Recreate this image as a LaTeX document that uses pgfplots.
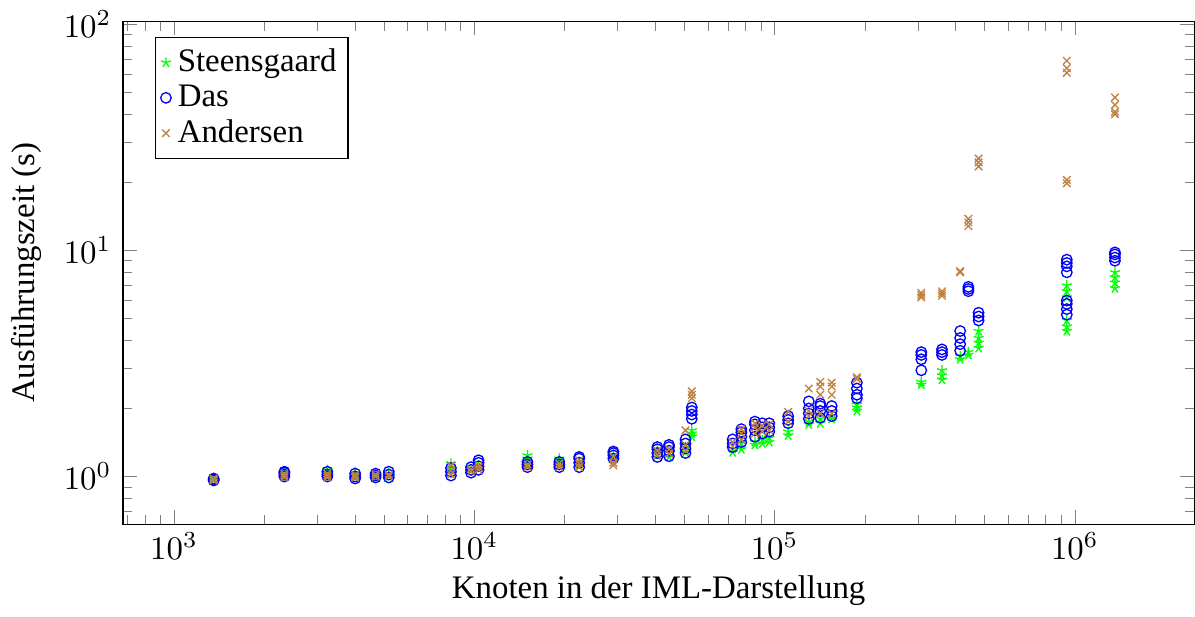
\documentclass[border=0pt]{standalone}
\usepackage{fontspec}
\setmainfont{Liberation Serif}
\usepackage{pgfplots}
\pgfplotsset{compat=1.18}

\begin{document}
\begin{tikzpicture}
\begin{loglogaxis}[
  scale only axis,
  width=326pt, height=153pt,
  xmin=676, xmax=2.5e6,
  ymin=0.615, ymax=103,
  xlabel={Knoten in der IML-Darstellung},
  ylabel={Ausführungszeit (s)},
  xlabel style={yshift=2pt},
  xticklabel style={yshift=1pt},
  legend pos=north west,
  legend cell align=left,
  legend style={row sep=-1.5pt, inner sep=1.5pt},
  mark size=1.6pt,
]
% Steensgaard
\addplot[only marks, mark=star, green] coordinates {
(1355,0.96) (1355,0.97) (1355,0.98)
(2330,1.00) (2330,1.02) (2330,1.04)
(3240,1.01) (3240,1.03) (3240,1.07)
(4010,0.99) (4010,1.01) (4010,1.04)
(4690,1.00) (4690,1.02)
(5190,1.00) (5190,1.03)
(8360,1.03) (8360,1.10) (8360,1.14)
(9750,1.06)
(10330,1.08) (10330,1.12)
(15030,1.13) (15030,1.20) (15030,1.24)
(19190,1.12) (19190,1.18) (19190,1.20)
(22350,1.12) (22350,1.16)
(29050,1.20) (29050,1.24)
(40700,1.24) (40700,1.30)
(44500,1.22) (44500,1.28)
(50500,1.28) (50500,1.35)
(53000,1.50) (53000,1.55) (53000,1.60)
(72500,1.28) (72500,1.33)
(77500,1.32) (77500,1.40)
(86000,1.38) (86000,1.42)
(91000,1.40) (91000,1.45)
(96000,1.42) (96000,1.48)
(111000,1.52) (111000,1.58)
(130000,1.70) (130000,1.75)
(142000,1.72) (142000,1.80)
(155000,1.80) (155000,1.86)
(188000,1.95) (188000,2.02) (188000,2.08)
(308000,2.55) (308000,2.62)
(361000,2.68) (361000,2.80) (361000,2.95)
(415000,3.30) (415000,3.40)
(442000,3.45) (442000,3.55)
(478000,3.70) (478000,3.90) (478000,4.10) (478000,4.40)
(940000,4.40) (940000,4.60) (940000,4.90) (940000,6.20) (940000,6.60) (940000,7.00)
(1360000,6.80) (1360000,7.20) (1360000,7.60) (1360000,8.00)
};
\addlegendentry{Steensgaard}
% Das
\addplot[only marks, mark=o, blue] coordinates {
(1355,0.96) (1355,0.97) (1355,0.98)
(2330,1.00) (2330,1.02) (2330,1.04) (2330,1.05)
(3240,1.00) (3240,1.02) (3240,1.05)
(4010,0.98) (4010,1.00) (4010,1.03)
(4690,0.99) (4690,1.01) (4690,1.03)
(5190,0.99) (5190,1.02) (5190,1.05)
(8360,1.01) (8360,1.05) (8360,1.09)
(9750,1.04) (9750,1.07) (9750,1.10)
(10330,1.07) (10330,1.11) (10330,1.15) (10330,1.18)
(15030,1.10) (15030,1.13) (15030,1.16)
(19190,1.10) (19190,1.13) (19190,1.16)
(22350,1.10) (22350,1.15) (22350,1.20) (22350,1.22)
(29050,1.20) (29050,1.24) (29050,1.27) (29050,1.29)
(40700,1.22) (40700,1.27) (40700,1.32) (40700,1.35)
(44500,1.23) (44500,1.30) (44500,1.35) (44500,1.38)
(50500,1.27) (50500,1.33) (50500,1.40) (50500,1.46)
(53000,1.80) (53000,1.88) (53000,1.95) (53000,2.02)
(72500,1.35) (72500,1.40) (72500,1.46)
(77500,1.42) (77500,1.50) (77500,1.57) (77500,1.62)
(86000,1.50) (86000,1.60) (86000,1.70) (86000,1.75)
(91000,1.55) (91000,1.65) (91000,1.72)
(96000,1.58) (96000,1.65) (96000,1.72)
(111000,1.72) (111000,1.78) (111000,1.85)
(130000,1.80) (130000,1.90) (130000,2.00) (130000,2.15)
(142000,1.82) (142000,1.95) (142000,2.05) (142000,2.10)
(155000,1.85) (155000,1.95) (155000,2.05)
(188000,2.22) (188000,2.30) (188000,2.45) (188000,2.60)
(308000,2.95) (308000,3.30) (308000,3.45) (308000,3.55)
(361000,3.45) (361000,3.55) (361000,3.65)
(415000,3.60) (415000,3.85) (415000,4.10) (415000,4.40)
(442000,6.60) (442000,6.75) (442000,6.90)
(478000,4.90) (478000,5.10) (478000,5.30)
(940000,5.20) (940000,5.50) (940000,5.80) (940000,6.00) (940000,8.00) (940000,8.50) (940000,8.80) (940000,9.10)
(1360000,9.00) (1360000,9.30) (1360000,9.60) (1360000,9.80)
};
\addlegendentry{Das}
% Andersen
\addplot[only marks, mark=x, brown] coordinates {
(1355,0.96) (1355,0.97) (1355,0.98)
(2330,0.99) (2330,1.01) (2330,1.03)
(3240,0.99) (3240,1.01) (3240,1.03)
(4010,0.99) (4010,1.00) (4010,1.02)
(4690,1.00) (4690,1.02)
(5190,1.00) (5190,1.02)
(8360,1.02) (8360,1.06) (8360,1.12)
(9750,1.05) (9750,1.08)
(10330,1.07) (10330,1.10) (10330,1.13)
(15030,1.10) (15030,1.13)
(19190,1.10) (19190,1.14)
(22350,1.10) (22350,1.14) (22350,1.18)
(29050,1.12) (29050,1.15) (29050,1.22)
(40700,1.25) (40700,1.30)
(44500,1.26) (44500,1.32)
(50500,1.30) (50500,1.38) (50500,1.60)
(53000,2.22) (53000,2.30) (53000,2.38)
(72500,1.36) (72500,1.42)
(77500,1.45) (77500,1.55) (77500,1.62)
(86000,1.55) (86000,1.65) (86000,1.72)
(91000,1.58) (91000,1.68)
(96000,1.60) (96000,1.70)
(111000,1.75) (111000,1.93)
(130000,1.85) (130000,1.95) (130000,2.45)
(142000,1.90) (142000,2.30) (142000,2.50) (142000,2.62)
(155000,1.90) (155000,2.30) (155000,2.50) (155000,2.60)
(188000,2.70) (188000,2.75)
(308000,6.20) (308000,6.35) (308000,6.50)
(361000,6.30) (361000,6.45) (361000,6.60)
(415000,8.00) (415000,8.10)
(442000,12.80) (442000,13.30) (442000,13.80)
(478000,23.50) (478000,24.50) (478000,25.50)
(940000,19.80) (940000,20.50) (940000,61.00) (940000,64.00) (940000,69.00)
(1360000,40.00) (1360000,41.00) (1360000,44.00) (1360000,47.50)
};
\addlegendentry{Andersen}
\end{loglogaxis}
\end{tikzpicture}
\end{document}
